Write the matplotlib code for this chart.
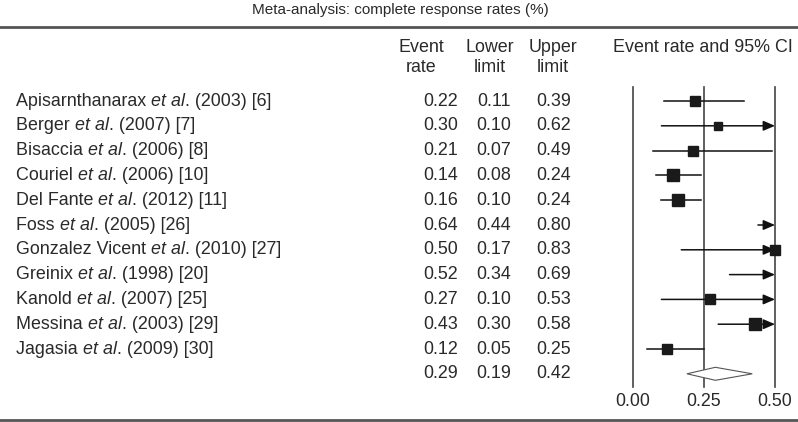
import numpy as np
import matplotlib.pyplot as plt
from matplotlib.patches import Polygon

plt.rcParams["font.family"] = ["Liberation Sans", "DejaVu Sans"]

studies = [
    ("Apisarnthanarax", " (2003) [6]"),
    ("Berger", " (2007) [7]"),
    ("Bisaccia", " (2006) [8]"),
    ("Couriel", " (2006) [10]"),
    ("Del Fante", " (2012) [11]"),
    ("Foss", " (2005) [26]"),
    ("Gonzalez Vicent", " (2010) [27]"),
    ("Greinix", " (1998) [20]"),
    ("Kanold", " (2007) [25]"),
    ("Messina", " (2003) [29]"),
    ("Jagasia", " (2009) [30]"),
]
rate = [0.22, 0.30, 0.21, 0.14, 0.16, 0.64, 0.50, 0.52, 0.27, 0.43, 0.12]
lower = [0.11, 0.10, 0.07, 0.08, 0.10, 0.44, 0.17, 0.34, 0.10, 0.30, 0.05]
upper = [0.39, 0.62, 0.49, 0.24, 0.24, 0.80, 0.83, 0.69, 0.53, 0.58, 0.25]
# relative study weights (square side, px)
weight = [9.5, 7.5, 8.5, 10, 10.5, 10, 8.5, 9, 8.5, 10, 8.5]
pooled = (0.29, 0.19, 0.42)
xticks = [0.00, 0.25, 0.50]

W, H = 798, 422
fig = plt.figure(figsize=(W / 100, H / 100), dpi=100)

# background axes in pixel coordinates for table text and rules
bg = fig.add_axes([0, 0, 1, 1])
bg.set_xlim(0, W)
bg.set_ylim(H, 0)
bg.axis("off")

fs = 12.9
col = "#2a2a2a"
bg.text(400, 10, "Meta-analysis: complete response rates (%)", ha="center", va="center", fontsize=11, color=col)
bg.plot([0, W], [27, 27], color="#555555", lw=2)
bg.plot([0, W], [420, 420], color="#555555", lw=2)

for x, words in [(421, ("Event", "rate")), (490, ("Lower", "limit")), (553, ("Upper", "limit"))]:
    bg.text(x, 47, words[0], ha="center", va="center", fontsize=fs, color=col)
    bg.text(x, 67, words[1], ha="center", va="center", fontsize=fs, color=col)
bg.text(703, 47, "Event rate and 95% CI", ha="center", va="center", fontsize=fs, color=col)

y0, dy = 101, 24.8
for i, (name, rest) in enumerate(studies):
    y = y0 + i * dy
    t = bg.text(16, y, name + " ", ha="left", va="center", fontsize=fs, color=col)
    t2 = bg.annotate("et al", xycoords=t, xy=(1, 0), va="bottom", ha="left",
                     fontsize=fs, color=col, style="italic")
    bg.annotate("." + rest, xycoords=t2, xy=(1, 0), va="bottom", ha="left",
                fontsize=fs, color=col)
    bg.text(458, y, f"{rate[i]:.2f}", ha="right", va="center", fontsize=fs, color=col)
    bg.text(511, y, f"{lower[i]:.2f}", ha="right", va="center", fontsize=fs, color=col)
    bg.text(571, y, f"{upper[i]:.2f}", ha="right", va="center", fontsize=fs, color=col)

ys = y0 + len(studies) * dy
bg.text(458, ys, f"{pooled[0]:.2f}", ha="right", va="center", fontsize=fs, color=col)
bg.text(511, ys, f"{pooled[1]:.2f}", ha="right", va="center", fontsize=fs, color=col)
bg.text(571, ys, f"{pooled[2]:.2f}", ha="right", va="center", fontsize=fs, color=col)

# forest axes: x in rate units, y in pixels
x_left, x_right = 633, 775
ax = fig.add_axes([x_left / W, 0, (x_right - x_left) / W, 1])
ax.set_xlim(0, 0.5)
ax.set_ylim(H, 0)
ax.axis("off")

for xt in xticks:
    ax.plot([xt, xt], [87, 387], color="#444444", lw=1.2, clip_on=False)
    ax.text(xt, 401, f"{xt:.2f}", ha="center", va="center", fontsize=fs, color=col)

xmax = xticks[-1]
for i in range(len(studies)):
    y = y0 + i * dy
    lo, hi = lower[i], min(upper[i], xmax)
    if upper[i] > xmax:
        ax.annotate("", xy=(xmax, y), xytext=(lo, y),
                    arrowprops=dict(arrowstyle="-|>,head_length=0.7,head_width=0.3",
                                    color="#111111", lw=1.1, shrinkA=0, shrinkB=0),
                    annotation_clip=False)
    else:
        ax.plot([lo, hi], [y, y], color="#111111", lw=1.1, clip_on=False)
    if rate[i] <= xmax:
        ax.plot(rate[i], y, marker="s", ms=weight[i] * 0.8, color="#1a1a1a",
                mec="#1a1a1a", clip_on=False, zorder=3)

pr, pl, pu = pooled
ax.add_patch(Polygon([[pl, ys], [pr, ys - 6.5], [pu, ys], [pr, ys + 6.5]],
                     closed=True, fc="white", ec="#555555", lw=0.8, zorder=3, clip_on=False))

fig.savefig("out.png", dpi=100)
